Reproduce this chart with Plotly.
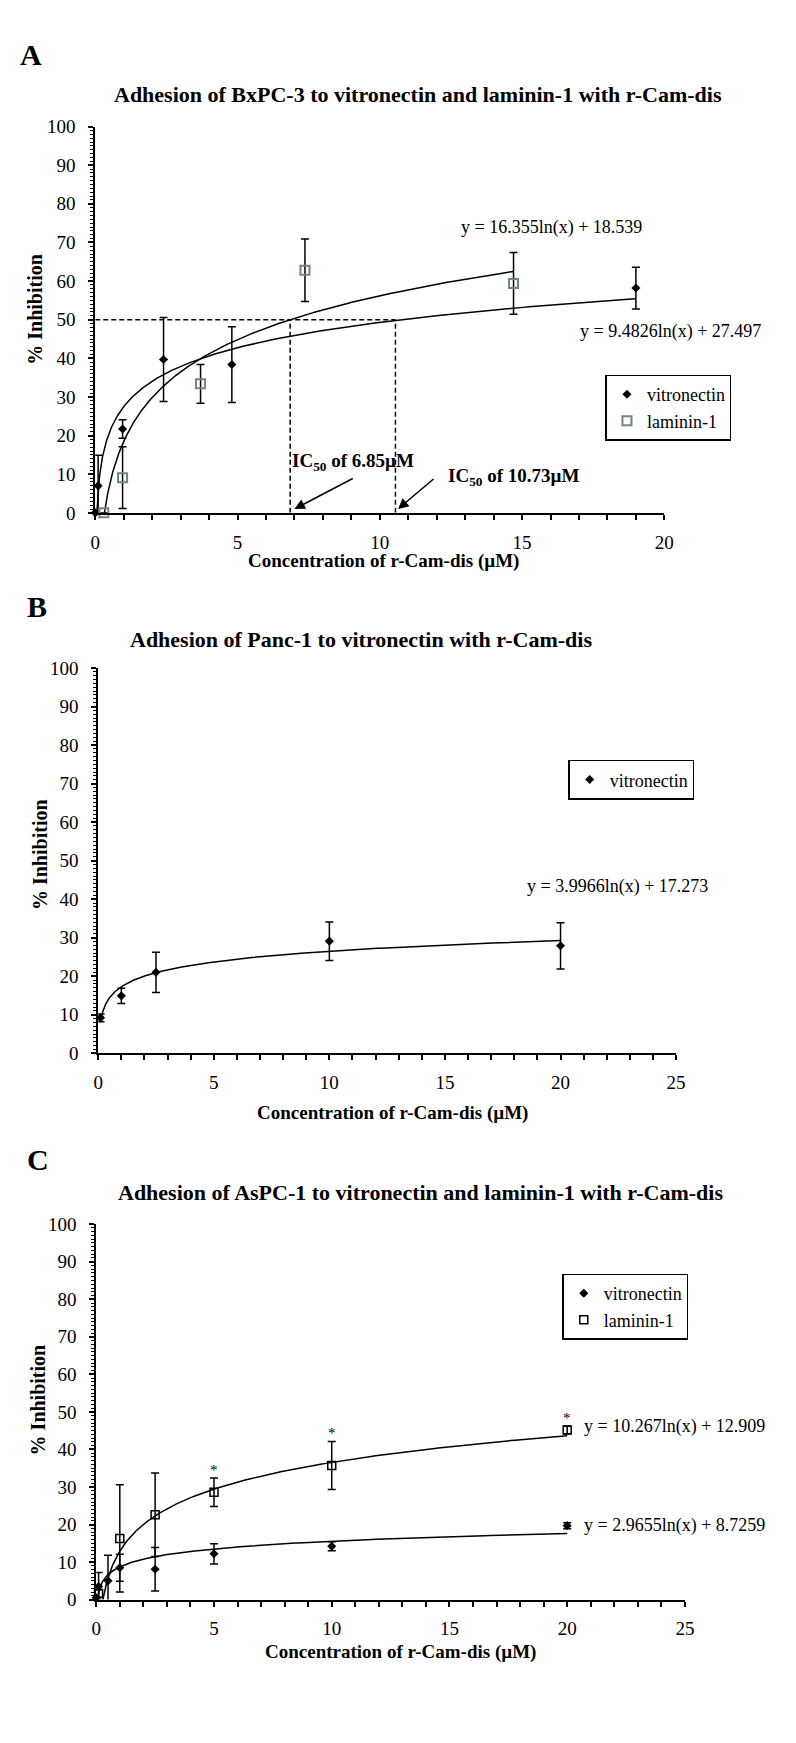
import numpy as np
import plotly.graph_objects as go

W, H = 796, 1743
FONT = "Liberation Serif"

# ---------------- data ----------------
# Panel A (BxPC-3)
a_vit_x = [0.0, 0.1, 0.96, 2.4, 4.8, 19.0]
a_vit_y = [0.0, 7.0, 21.7, 39.7, 38.4, 58.2]
a_vit_err = [0.0, 7.9, 2.4, 10.9, 9.8, 5.4]
a_lam_x = [0.3, 0.96, 3.7, 7.37, 14.7]
a_lam_y = [0.0, 9.1, 33.4, 62.8, 59.4]
a_lam_err = [0.0, 8.0, 5.0, 8.1, 8.0]
a_fit_vit = [9.4826, 27.497]
a_fit_lam = [16.355, 18.539]
a_fit_vit_range = [0.055, 19.0]
a_fit_lam_range = [0.32, 14.7]
a_ic50_level = 50
a_ic50_x = [6.85, 10.55]
a_ic50_labels = ["IC<sub>50</sub> of 6.85µM", "IC<sub>50</sub> of 10.73µM"]
a_eq_vit = "y = 9.4826ln(x) + 27.497"
a_eq_lam = "y = 16.355ln(x) + 18.539"

# Panel B (Panc-1)
b_vit_x = [0.1, 1.0, 2.5, 10.0, 20.0]
b_vit_y = [9.2, 14.9, 21.0, 29.1, 27.9]
b_vit_err = [1.0, 2.0, 5.2, 5.0, 6.0]
b_fit_vit = [3.9966, 17.273]
b_fit_vit_range = [0.1, 20.0]
b_eq_vit = "y = 3.9966ln(x) + 17.273"

# Panel C (AsPC-1)
c_vit_x = [0.0, 0.1, 0.5, 1.0, 2.5, 5.0, 10.0, 20.0]
c_vit_y = [0.5, 3.5, 5.0, 8.5, 8.1, 12.2, 14.2, 19.7]
c_vit_err = [0.0, 3.7, 6.8, 3.6, 5.8, 2.7, 1.2, 0.8]
c_lam_x = [0.1, 1.0, 2.5, 5.0, 10.0, 20.0]
c_lam_y = [1.6, 16.3, 22.6, 28.6, 35.7, 45.2]
c_lam_err = [1.0, 14.3, 11.1, 3.8, 6.4, 1.0]
c_fit_vit = [2.9655, 8.7259]
c_fit_lam = [10.267, 12.909]
c_fit_vit_range = [0.053, 20.0]
c_fit_lam_range = [0.284, 20.0]
c_star_x = [5.0, 10.0, 20.0]
c_eq_vit = "y = 2.9655ln(x) + 8.7259"
c_eq_lam = "y = 10.267ln(x) + 12.909"

titles = [
    "Adhesion of BxPC-3 to vitronectin and laminin-1 with r-Cam-dis",
    "Adhesion of Panc-1 to vitronectin with r-Cam-dis",
    "Adhesion of AsPC-1 to vitronectin and laminin-1 with r-Cam-dis",
]
x_title = "Concentration of r-Cam-dis (µM)"
y_title = "% Inhibition"
panel_letters = ["A", "B", "C"]


def log_curve(coef, rng):
    xs = np.geomspace(rng[0], rng[1], 400)
    return xs, coef[0] * np.log(xs) + coef[1]


def px(x, y):
    return x / W, 1 - y / H


fig = go.Figure()

ERR = dict(type="data", color="black", thickness=1.5, width=4, visible=True)
VIT_M = dict(symbol="diamond", size=7, color="black", line=dict(width=0))
LAM_A_M = dict(symbol="square-open", size=9, color="#6f8484", line=dict(width=2, color="#6f8484"))
LAM_C_M = dict(symbol="square-open", size=8, color="black", line=dict(width=1.5, color="black"))
FIT = dict(color="black", width=1.5)

# ---- panel A ----
for coef, rng in [(a_fit_vit, a_fit_vit_range), (a_fit_lam, a_fit_lam_range)]:
    xs, ys = log_curve(coef, rng)
    fig.add_trace(go.Scatter(x=xs, y=ys, mode="lines", line=FIT, showlegend=False,
                             hoverinfo="skip", xaxis="x", yaxis="y"))
fig.add_trace(go.Scatter(x=a_vit_x, y=a_vit_y, mode="markers", name="vitronectin",
                         marker=VIT_M, error_y=dict(array=a_vit_err, **ERR),
                         xaxis="x", yaxis="y", legend="legend", cliponaxis=False))
fig.add_trace(go.Scatter(x=a_lam_x, y=a_lam_y, mode="markers", name="laminin-1",
                         marker=LAM_A_M, error_y=dict(array=a_lam_err, **ERR),
                         xaxis="x", yaxis="y", legend="legend", cliponaxis=False))

# ---- panel B ----
xs, ys = log_curve(b_fit_vit, b_fit_vit_range)
fig.add_trace(go.Scatter(x=xs, y=ys, mode="lines", line=FIT, showlegend=False,
                         hoverinfo="skip", xaxis="x2", yaxis="y2"))
fig.add_trace(go.Scatter(x=b_vit_x, y=b_vit_y, mode="markers", name="vitronectin",
                         marker=VIT_M, error_y=dict(array=b_vit_err, **ERR),
                         xaxis="x2", yaxis="y2", legend="legend2", cliponaxis=False))

# ---- panel C ----
for coef, rng in [(c_fit_vit, c_fit_vit_range), (c_fit_lam, c_fit_lam_range)]:
    xs, ys = log_curve(coef, rng)
    fig.add_trace(go.Scatter(x=xs, y=ys, mode="lines", line=FIT, showlegend=False,
                             hoverinfo="skip", xaxis="x3", yaxis="y3"))
fig.add_trace(go.Scatter(x=c_vit_x, y=c_vit_y, mode="markers", name="vitronectin",
                         marker=VIT_M, error_y=dict(array=c_vit_err, **ERR),
                         xaxis="x3", yaxis="y3", legend="legend3", cliponaxis=False))
fig.add_trace(go.Scatter(x=c_lam_x, y=c_lam_y, mode="markers", name="laminin-1",
                         marker=LAM_C_M, error_y=dict(array=c_lam_err, **ERR),
                         xaxis="x3", yaxis="y3", legend="legend3", cliponaxis=False))

# ---------------- axes ----------------
TICKFONT = dict(family=FONT, size=19, color="black")


def xaxis(px0, px1, rng, anchor):
    return dict(domain=[px0 / W, px1 / W], range=rng, anchor=anchor, showgrid=False,
                zeroline=False, showline=True, linecolor="black", linewidth=1.8,
                ticks="outside", ticklen=5, tickwidth=1.5, tickcolor="black", dtick=5,
                tick0=0, tickfont=TICKFONT, ticklabelstandoff=6, fixedrange=True,
                minor=dict(dtick=1, ticks="outside", ticklen=5, tickwidth=1.5,
                           tickcolor="black", showgrid=False))


def yaxis(pyb, pyt, anchor):
    return dict(domain=[1 - pyb / H, 1 - pyt / H], range=[0, 100], anchor=anchor,
                showgrid=False, zeroline=False, showline=True, linecolor="black",
                linewidth=1.8, ticks="outside", ticklen=5, tickwidth=1.5,
                tickcolor="black", dtick=10, tick0=0, tickfont=TICKFONT,
                ticklabelstandoff=9, fixedrange=True,
                minor=dict(dtick=1, ticks="outside", ticklen=3, tickwidth=1.2,
                           tickcolor="black", showgrid=False))


LEG = dict(xanchor="left", yanchor="top", bordercolor="black", borderwidth=1.5,
           bgcolor="white", font=dict(family=FONT, size=18, color="black"),
           tracegroupgap=0, itemwidth=30)

fig.update_layout(
    width=W, height=H, margin=dict(l=0, r=0, t=0, b=0),
    paper_bgcolor="white", plot_bgcolor="white",
    font=dict(family=FONT, color="black"),
    xaxis=xaxis(92, 672, [0, 20], "y"),
    yaxis=yaxis(509, 118, "x"),
    xaxis2=xaxis(95, 684, [0, 25], "y2"),
    yaxis2=yaxis(1056, 666, "x2"),
    xaxis3=xaxis(93, 693, [0, 25], "y3"),
    yaxis3=yaxis(1609, 1229, "x3"),
    legend=dict(x=612 / W, y=1 - 369 / H, **LEG),
    legend2=dict(x=574 / W, y=1 - 759 / H, **LEG),
    legend3=dict(x=568 / W, y=1 - 1279 / H, **LEG),
)

# ---------------- shapes (IC50 guide lines) ----------------
DASH = dict(color="black", width=1.5, dash="5px,3px")
fig.add_shape(type="line", xref="x", yref="y", x0=0, x1=max(a_ic50_x),
              y0=a_ic50_level, y1=a_ic50_level, line=DASH)
for xv in a_ic50_x:
    fig.add_shape(type="line", xref="x", yref="y", x0=xv, x1=xv, y0=0,
                  y1=a_ic50_level, line=DASH)

# ---------------- annotations ----------------
ann = []
# panel letters
for letter, (lx, ly) in zip(panel_letters, [(26, 45), (33, 604), (34, 1164)]):
    x, y = px(lx, ly)
    ann.append(dict(text=f"<b>{letter}</b>", x=x, y=y, xref="paper", yref="paper",
                    xanchor="center", yanchor="middle", showarrow=False,
                    font=dict(family=FONT, size=30, color="black")))
# titles
for t, (tx, ty) in zip(titles, [(421, 86), (363, 637), (423, 1197)]):
    x, y = px(tx, ty)
    ann.append(dict(text=f"<b>{t}</b>", x=x, y=y, xref="paper", yref="paper",
                    xanchor="center", yanchor="middle", showarrow=False,
                    font=dict(family=FONT, size=22, color="black")))
# x-axis titles
for tx, ty in [(386, 558), (395, 1116), (403, 1662)]:
    x, y = px(tx, ty)
    ann.append(dict(text=f"<b>{x_title}</b>", x=x, y=y, xref="paper", yref="paper",
                    xanchor="center", yanchor="middle", showarrow=False,
                    font=dict(family=FONT, size=19, color="black")))
# y-axis titles
for tx, ty in [(31, 303), (35, 855), (34, 1407)]:
    x, y = px(tx, ty)
    ann.append(dict(text=f"<b>{y_title}</b>", x=x, y=y, xref="paper", yref="paper",
                    xanchor="center", yanchor="middle", showarrow=False, textangle=-90,
                    font=dict(family=FONT, size=20, color="black")))
# equations
for t, (tx, ty) in [(a_eq_lam, (463, 220)), (a_eq_vit, (584, 325)),
                    (b_eq_vit, (530, 887)), (c_eq_lam, (588, 1434)),
                    (c_eq_vit, (588, 1534))]:
    x, y = px(tx, ty)
    ann.append(dict(text=t, x=x, y=y, xref="paper", yref="paper",
                    xanchor="left", yanchor="middle", showarrow=False,
                    font=dict(family=FONT, size=18, color="black")))
# IC50 labels
for t, (tx, ty) in zip(a_ic50_labels, [(290, 458), (449, 473)]):
    x, y = px(tx, ty)
    ann.append(dict(text=f"<b>{t}</b>", x=x, y=y, xref="paper", yref="paper",
                    xanchor="left", yanchor="middle", showarrow=False,
                    font=dict(family=FONT, size=19, color="black")))
# IC50 arrows (tail -> head, data coords)
for (hx, hy, tx, ty) in [(7.0, 1.0, 9.1, 9.1), (10.64, 1.0, 11.94, 9.1)]:
    ann.append(dict(text="", x=hx, y=hy, ax=tx, ay=ty, xref="x", yref="y",
                    axref="x", ayref="y", showarrow=True, arrowhead=2,
                    arrowsize=1.4, arrowwidth=1.5, arrowcolor="black", standoff=0))
# significance stars in panel C
for sx in c_star_x:
    i = c_lam_x.index(sx)
    ann.append(dict(text="*", x=sx, y=c_lam_y[i] + c_lam_err[i] + 2.2, xref="x3",
                    yref="y3", showarrow=False, xanchor="center", yanchor="middle",
                    font=dict(family=FONT, size=15, color="black")))

fig.update_layout(annotations=ann)
fig.write_html("out.html", config={"displayModeBar": False},
               post_script="document.body.style.margin='0px';document.body.style.padding='0px';")
